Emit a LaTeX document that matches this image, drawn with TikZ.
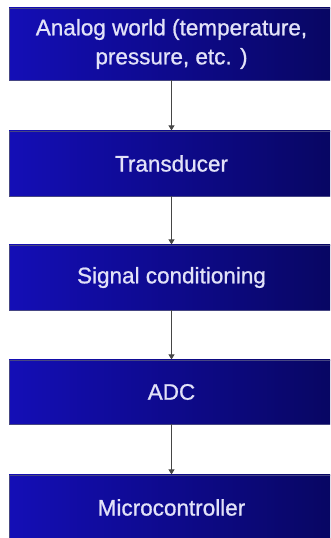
\documentclass[tikz,border=0pt]{standalone}
\usepackage{fontspec}
\setmainfont{Liberation Sans}
\newfontface\labelface{Liberation Sans}[FakeBold=0.9]
\usetikzlibrary{arrows.meta}
\definecolor{boxleft}{RGB}{20,14,182}
\definecolor{boxright}{RGB}{8,6,98}
\definecolor{boxedge}{RGB}{70,70,130}
\definecolor{labeltext}{RGB}{226,226,248}
\definecolor{linkgray}{RGB}{70,70,70}
\tikzset{
  stage/.style={rectangle, minimum width=325pt, inner sep=0pt,
    left color=boxleft, right color=boxright, draw=boxedge, line width=0.6pt,
    text=labeltext, align=center,
    font=\labelface\fontsize{22.5}{29}\selectfont},
  link/.style={draw=linkgray, line width=0.9pt,
    -{Triangle[length=5pt,width=6pt]}, shorten >=0.3pt}
}
\begin{document}
\begin{tikzpicture}[x=1pt,y=1pt]
  \useasboundingbox (0,0) rectangle (330,538);
  \clip (0,0) rectangle (330,538);
  \fill[white] (0,0) rectangle (330,538);
  \node[stage, minimum height=72pt] (world) at (171.5,494)
    {Analog world (temperature,\\pressure, etc. )};
  \node[stage, minimum height=65pt] (trans) at (171.5,374.5) {Transducer};
  \node[stage, minimum height=65pt] (cond) at (171.5,260.5) {Signal conditioning};
  \node[stage, minimum height=64pt] (adc) at (171.5,146) {ADC};
  \node[stage, minimum height=65pt] (mcu) at (171.5,30.5) {Microcontroller};
  \draw[link] (world) -- (trans);
  \draw[link] (trans) -- (cond);
  \draw[link] (cond) -- (adc);
  \draw[link] (adc) -- (mcu);
\end{tikzpicture}
\end{document}
